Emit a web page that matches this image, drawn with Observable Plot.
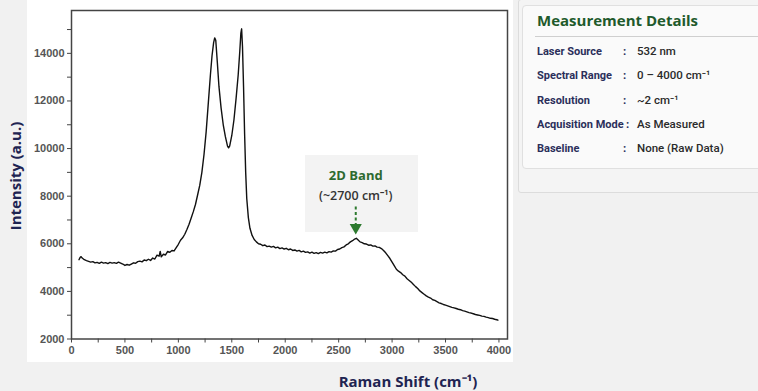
<!DOCTYPE html>
<html><head><meta charset="utf-8">
<script src="https://cdn.jsdelivr.net/npm/d3@7"></script>
<script src="https://cdn.jsdelivr.net/npm/@observablehq/plot@0.6"></script>
<style>
body{margin:0;background:#f1f1f1;width:758px;height:391px;overflow:hidden;position:relative;font-family:"Open Sans","Liberation Sans",sans-serif}
#white{position:absolute;left:27px;top:0;width:486px;height:362px;background:#fff}
#chart{position:absolute;left:0;top:0}
.axlab{position:absolute;font-weight:700;font-size:15px;color:#1f2452;white-space:nowrap}
#ylab{left:15px;top:176px;transform:translate(-50%,-50%) rotate(-90deg)}
#xlab{left:408px;top:381px;transform:translate(-50%,-50%)}
#outer{position:absolute;left:518px;top:-1px;width:250px;height:192px;border:1px solid #dcdcdc;background:#f4f4f4;border-radius:3px}
#inner{position:absolute;left:522px;top:5px;width:250px;height:162px;border:1px solid #e0e0e0;background:#fafafa;border-radius:4px}
#ptitle{position:absolute;left:537px;top:20px;transform:translateY(-50%);font-size:15px;font-weight:700;color:#1f5a2c;white-space:nowrap}
#sep{position:absolute;left:535px;top:36px;width:223px;height:1px;background:#cfcfcf}
.row{position:absolute;font-family:Roboto,sans-serif;font-size:11.5px;white-space:nowrap;transform:translateY(-50%)}
.lab{left:537px;font-weight:700;color:#2b2f5a;font-size:11px}
.col{left:623px;font-weight:700;color:#2b2f5a}
.val{left:637px;font-weight:500;color:#2a2a2a}
</style></head>
<body>
<div id="white"></div>
<div id="chart"></div>
<div class="axlab" id="ylab">Intensity (a.u.)</div>
<div class="axlab" id="xlab">Raman Shift (cm⁻¹)</div>
<div id="outer"></div>
<div id="inner"></div>
<div id="ptitle">Measurement Details</div>
<div id="sep"></div>
<div id="rows"></div>
<script>
// Spectrum
const shift = [70,80,90,100,120,140,160,180,200,220,240,260,280,300,320,340,360,380,400,420,440,460,480,500,520,540,560,580,600,620,640,660,680,700,720,740,760,780,800,820,830,840,860,880,900,920,940,960,980,1000,1020,1040,1060,1080,1100,1120,1140,1160,1180,1200,1220,1240,1260,1280,1300,1315,1330,1340,1350,1365,1380,1400,1420,1440,1460,1470,1480,1500,1520,1540,1560,1575,1585,1592,1600,1610,1620,1630,1640,1655,1670,1690,1710,1730,1750,1770,1790,1810,1830,1850,1870,1890,1910,1930,1950,1970,1990,2010,2030,2050,2070,2090,2110,2130,2150,2170,2190,2210,2230,2250,2270,2290,2310,2330,2350,2370,2390,2410,2430,2450,2470,2490,2510,2530,2550,2570,2590,2610,2630,2650,2665,2680,2700,2720,2740,2760,2780,2800,2820,2840,2860,2880,2900,2920,2940,2960,2980,3000,3020,3040,3060,3080,3100,3120,3140,3160,3180,3200,3220,3240,3260,3280,3300,3320,3340,3360,3380,3400,3420,3440,3460,3480,3500,3520,3540,3560,3580,3600,3620,3640,3660,3680,3700,3720,3740,3760,3780,3800,3820,3840,3860,3880,3900,3920,3940,3960,3980,3990];
const intensity = [5330,5420,5460,5400,5330,5290,5260,5230,5250,5200,5220,5180,5230,5190,5210,5170,5220,5190,5210,5180,5230,5190,5150,5090,5130,5100,5150,5200,5180,5250,5270,5240,5320,5290,5350,5300,5400,5360,5520,5480,5680,5450,5560,5530,5680,5640,5720,5700,5840,5980,6150,6250,6400,6600,6820,7080,7350,7650,8050,8450,9000,9750,10700,11900,13100,13900,14450,14650,14550,13600,12600,11700,11000,10500,10100,10030,10100,10550,11200,12100,13100,14100,14850,15030,14300,12600,10600,9000,7900,7100,6650,6350,6180,6080,6000,5980,5920,5950,5880,5900,5860,5890,5830,5860,5800,5830,5780,5810,5750,5780,5720,5740,5690,5720,5660,5690,5640,5660,5610,5650,5600,5630,5590,5640,5610,5650,5620,5670,5650,5700,5690,5760,5780,5840,5870,5950,6000,6080,6130,6200,6230,6170,6080,6050,6000,5990,5940,5950,5900,5910,5860,5850,5800,5720,5620,5500,5380,5230,5080,4930,4850,4790,4700,4640,4530,4460,4380,4290,4200,4120,4020,3950,3880,3810,3760,3720,3650,3620,3570,3520,3490,3450,3420,3390,3360,3330,3310,3280,3250,3230,3190,3170,3140,3110,3090,3060,3030,3010,2990,2960,2950,2920,2900,2870,2860,2830,2810,2790];

const xTicks = [0,500,1000,1500,2000,2500,3000,3500,4000];
const xMinor = [250,750,1250,1750,2250,2750,3250,3750];
const yTicks = [2000,4000,6000,8000,10000,12000,14000];
const yMinor = [3000,5000,7000,9000,11000,13000,15000];

const annotationX = 2660;
const annotationTitle = "2D Band";
const annotationSub = "(~2700 cm⁻¹)";

const detailLabels = ["Laser Source","Spectral Range","Resolution","Acquisition Mode","Baseline"];
const detailValues = ["532 nm","0 – 4000 cm⁻¹","~2 cm⁻¹","As Measured","None (Raw Data)"];

const spectrum = shift.map((s,i)=>({s, v:intensity[i]}));

const W=758,H=391, mL=71, mT=10, mR=251, mB=52.5;
const xDom=[0,4080], yDom=[2000,15800];
const yAt = px => yDom[0] + (H-mB-px)/(H-mB-mT)*(yDom[1]-yDom[0]);
const xAt = px => xDom[0] + (px-mL)/(W-mR-mL)*(xDom[1]-xDom[0]);

const chart = Plot.plot({
  width:W, height:H, marginLeft:mL, marginTop:mT, marginRight:mR, marginBottom:mB,
  style:{background:"transparent", fontFamily:"'Liberation Sans',Arial,sans-serif"},
  x:{type:"linear",domain:xDom}, y:{type:"linear",domain:yDom},
  marks:[
    Plot.rect([0],{x1:()=>xAt(305),x2:()=>xAt(418),y1:()=>yAt(232),y2:()=>yAt(155),fill:"#f3f3f3"}),
    Plot.line(spectrum,{x:"s",y:"v",stroke:"#111",strokeWidth:1.4,curve:"linear"}),
    Plot.frame({stroke:"#444",strokeWidth:1.5}),
    Plot.axisX({ticks:xTicks,tickSize:4,tickPadding:3,label:null,fontSize:11,fontWeight:"bold",fill:"#555",stroke:"#444",tickFormat:d=>String(d)}),
    Plot.axisX({ticks:xMinor,tickSize:4,label:null,tickFormat:()=>"",stroke:"#444"}),
    Plot.axisY({ticks:yTicks,tickSize:4,tickPadding:3,label:null,fontSize:11,fontWeight:"bold",fill:"#555",stroke:"#444",tickFormat:d=>String(d)}),
    Plot.axisY({ticks:yMinor,tickSize:4,label:null,tickFormat:()=>"",stroke:"#444"}),
    Plot.text([annotationTitle],{x:()=>annotationX,y:()=>yAt(175),text:d=>d,fill:"#2d6a2f",fontSize:13,fontWeight:"bold",fontFamily:"'Open Sans',sans-serif"}),
    Plot.text([annotationSub],{x:()=>annotationX,y:()=>yAt(195),text:d=>d,fill:"#333",fontSize:12.5,fontWeight:600,fontFamily:"'Open Sans',sans-serif"}),
    Plot.link([0],{x1:()=>annotationX,x2:()=>annotationX,y1:()=>yAt(206),y2:()=>yAt(224),stroke:"#2d7a2f",strokeWidth:2,strokeDasharray:"3,2.5"}),
    Plot.dot([0],{x:()=>annotationX,y:()=>yAt(227),symbol:"triangle",r:4.5,rotate:180,fill:"#2d7a2f"})
  ]
});
document.getElementById("chart").appendChild(chart);

const rows = document.getElementById("rows");
detailLabels.forEach((l,i)=>{
  const y = 51 + i*24.3;
  rows.insertAdjacentHTML("beforeend",
   `<div class="row lab" style="top:${y}px">${l}</div><div class="row col" style="top:${y}px;${i===3?'left:626px':''}">:</div><div class="row val" style="top:${y}px">${detailValues[i]}</div>`);
});
</script>
</body></html>
